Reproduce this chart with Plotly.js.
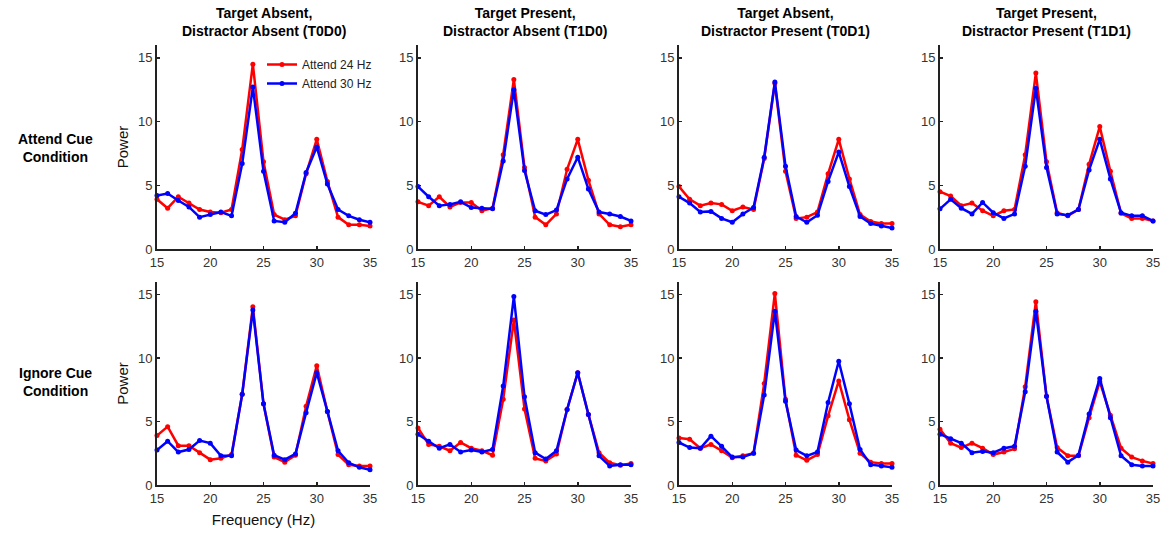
<!DOCTYPE html>
<html>
<head>
<meta charset="utf-8">
<script src="https://cdn.plot.ly/plotly-3.0.1.min.js"></script>
<style>html,body{margin:0;padding:0;background:#fff;}#chart{width:1173px;height:535px;}</style>
</head>
<body>
<div id="chart"></div>
<script>
// ---------- DATA ----------
const freqs = [15,16,17,18,19,20,21,22,23,24,25,26,27,28,29,30,31,32,33,34,35];
const xTickVals = [15,20,25,30,35];
const yTickVals = [0,5,10,15];
const seriesNames = ['Attend 24 Hz', 'Attend 30 Hz'];
const columnTitles = [
  'Target Absent,<br>Distractor Absent (T0D0)',
  'Target Present,<br>Distractor Absent (T1D0)',
  'Target Absent,<br>Distractor Present (T0D1)',
  'Target Present,<br>Distractor Present (T1D1)'
];
const rowLabels = ['Attend Cue<br>Condition', 'Ignore Cue<br>Condition'];
const yLabel = 'Power';
const xLabel = 'Frequency (Hz)';

// Attend cue condition (row 1)
const attend_T0D0_24 = [3.9,3.2,4.1,3.6,3.1,2.9,2.85,3.1,7.8,14.5,6.85,2.7,2.3,2.6,5.9,8.6,5.3,2.5,1.9,1.9,1.8];
const attend_T0D0_30 = [4.2,4.35,3.8,3.3,2.5,2.7,2.9,2.6,6.7,12.7,6.1,2.2,2.1,2.8,6.0,8.0,5.1,3.1,2.6,2.3,2.1];
const attend_T1D0_24 = [3.7,3.4,4.1,3.3,3.65,3.65,3.0,3.2,7.4,13.3,6.4,2.5,1.9,2.75,6.25,8.6,5.4,2.75,1.9,1.75,1.9];
const attend_T1D0_30 = [4.9,4.1,3.4,3.5,3.7,3.25,3.2,3.15,6.9,12.5,6.15,3.0,2.7,3.05,5.5,7.2,4.7,2.9,2.75,2.55,2.2];
const attend_T0D1_24 = [4.9,3.9,3.4,3.6,3.5,3.0,3.3,3.1,7.1,13.0,6.1,2.4,2.5,2.9,5.9,8.6,5.5,2.7,2.15,2.0,2.0];
const attend_T0D1_30 = [4.1,3.6,2.9,2.95,2.4,2.1,2.75,3.25,7.2,13.1,6.5,2.55,2.1,2.65,5.3,7.6,4.9,2.55,2.0,1.8,1.65];
const attend_T1D1_24 = [4.5,4.15,3.4,3.6,3.0,2.6,3.0,3.1,7.4,13.8,6.85,2.85,2.6,3.1,6.65,9.6,6.1,2.8,2.4,2.4,2.2];
const attend_T1D1_30 = [3.15,3.9,3.2,2.75,3.65,2.85,2.4,2.75,6.5,12.6,6.4,2.75,2.65,3.1,6.2,8.6,5.5,2.85,2.6,2.6,2.2];
// Ignore cue condition (row 2)
const ignore_T0D0_24 = [3.9,4.6,3.1,3.1,2.55,2.0,2.1,2.4,7.15,14.05,6.4,2.2,1.8,2.35,6.2,9.4,5.8,2.4,1.6,1.5,1.5];
const ignore_T0D0_30 = [2.75,3.45,2.6,2.8,3.5,3.3,2.3,2.3,7.15,13.8,6.4,2.35,2.0,2.45,5.7,8.85,5.8,2.7,1.75,1.4,1.2];
const ignore_T1D0_24 = [4.5,3.2,3.05,2.7,3.35,2.9,2.7,2.35,6.75,13.0,6.0,2.1,1.9,2.45,5.95,8.85,5.55,2.55,1.75,1.55,1.7];
const ignore_T1D0_30 = [4.0,3.45,2.9,3.2,2.6,2.75,2.6,2.8,7.8,14.85,6.95,2.55,2.05,2.7,5.95,8.85,5.55,2.3,1.5,1.6,1.6];
const ignore_T0D1_24 = [3.7,3.6,2.9,3.2,2.7,2.15,2.3,2.5,8.0,15.1,6.75,2.35,1.95,2.4,5.45,8.2,5.15,2.5,1.8,1.7,1.7];
const ignore_T0D1_30 = [3.35,2.95,2.9,3.85,3.05,2.2,2.2,2.5,7.1,13.7,6.6,2.75,2.3,2.6,6.5,9.75,6.4,2.8,1.6,1.5,1.4];
const ignore_T1D1_24 = [4.4,3.3,2.95,3.3,2.9,2.4,2.6,2.85,7.75,14.45,7.0,2.95,2.3,2.3,5.3,8.15,5.5,2.9,2.2,1.9,1.7];
const ignore_T1D1_30 = [4.0,3.65,3.3,2.55,2.65,2.55,2.9,3.05,7.35,13.7,7.0,2.6,1.8,2.35,5.6,8.4,5.3,2.3,1.6,1.5,1.5];

const panelSeries = [
  [attend_T0D0_24, attend_T0D0_30], [attend_T1D0_24, attend_T1D0_30],
  [attend_T0D1_24, attend_T0D1_30], [attend_T1D1_24, attend_T1D1_30],
  [ignore_T0D0_24, ignore_T0D0_30], [ignore_T1D0_24, ignore_T1D0_30],
  [ignore_T0D1_24, ignore_T0D1_30], [ignore_T1D1_24, ignore_T1D1_30]
];

// ---------- LAYOUT ----------
const W = 1173, H = 535;
const colsPx = [157, 418, 679, 940];
const panelW = 213;
const rowsPx = [[45, 249], [282, 485]]; // top, bottom
const colors = ['#ff0000', '#0000ff'];
const FONT = '"Liberation Sans", Arial, Helvetica, sans-serif';

const traces = [];
const layout = {
  width: W, height: H,
  margin: {l: 0, r: 0, t: 0, b: 0},
  paper_bgcolor: '#fff', plot_bgcolor: '#fff',
  font: {family: FONT, color: '#000'},
  showlegend: true,
  legend: {
    x: 377 / W, y: 1 - 50 / H, xanchor: 'right', yanchor: 'top',
    bgcolor: 'rgba(0,0,0,0)', font: {size: 12, color: '#222', family: FONT},
    tracegroupgap: 0, itemwidth: 30
  },
  annotations: []
};

for (let p = 0; p < 8; p++) {
  const r = Math.floor(p / 4), c = p % 4;
  const idx = p + 1;
  const xa = 'xaxis' + (idx === 1 ? '' : idx);
  const ya = 'yaxis' + (idx === 1 ? '' : idx);
  const xref = 'x' + (idx === 1 ? '' : idx);
  const yref = 'y' + (idx === 1 ? '' : idx);
  layout[xa] = {
    domain: [colsPx[c] / W, (colsPx[c] + panelW) / W],
    anchor: yref, range: [15, 35], tickvals: xTickVals,
    showline: true, linecolor: '#222', linewidth: 2,
    ticks: 'inside', ticklen: 3, tickwidth: 1.5, tickcolor: '#222',
    showgrid: false, zeroline: false,
    tickfont: {size: 13, color: '#333', family: FONT}
  };
  layout[ya] = {
    domain: [1 - rowsPx[r][1] / H, 1 - rowsPx[r][0] / H],
    anchor: xref, range: [0, 16], tickvals: yTickVals,
    showline: true, linecolor: '#222', linewidth: 2,
    ticks: 'inside', ticklen: 3, tickwidth: 1.5, tickcolor: '#222',
    showgrid: false, zeroline: false,
    tickfont: {size: 13, color: '#333', family: FONT}
  };
  if (c === 0) {
    layout[ya].title = {text: yLabel, font: {size: 15, color: '#111', family: FONT}, standoff: 6};
  }
  if (p === 4) {
    layout[xa].title = {text: xLabel, font: {size: 15, color: '#111', family: FONT}, standoff: 10};
  }
  panelSeries[p].forEach((ys, s) => {
    traces.push({
      type: 'scatter', mode: 'lines+markers',
      x: freqs, y: ys, xaxis: xref, yaxis: yref,
      name: seriesNames[s], showlegend: p === 0, legendgroup: seriesNames[s],
      line: {color: colors[s], width: 2.5},
      marker: {color: colors[s], size: 5},
      cliponaxis: false
    });
  });
}

// column titles
columnTitles.forEach((t, c) => {
  layout.annotations.push({
    text: '<b>' + t + '</b>', xref: 'paper', yref: 'paper',
    x: (colsPx[c] + panelW / 2) / W, y: 1 - 3 / H, xanchor: 'center', yanchor: 'top',
    showarrow: false, font: {size: 14, color: '#000', family: FONT}, align: 'center'
  });
});
// row labels
const rowLabelY = [148, 382];
rowLabels.forEach((t, r) => {
  layout.annotations.push({
    text: '<b>' + t + '</b>', xref: 'paper', yref: 'paper',
    x: 55 / W, y: 1 - rowLabelY[r] / H, xanchor: 'center', yanchor: 'middle',
    showarrow: false, font: {size: 14, color: '#000', family: FONT}, align: 'center'
  });
});

Plotly.newPlot('chart', traces, layout, {displayModeBar: false, staticPlot: true});
</script>
</body>
</html>
